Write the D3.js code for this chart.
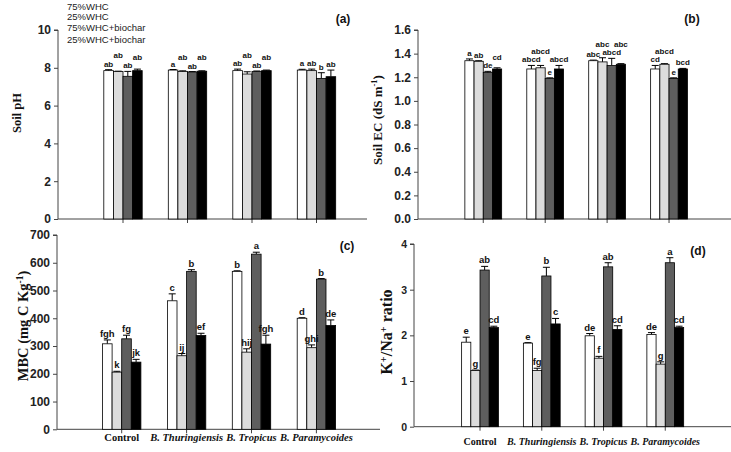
<!DOCTYPE html>
<html><head><meta charset="utf-8">
<script src="https://cdn.jsdelivr.net/npm/d3@7"></script>
<style>
html,body{margin:0;padding:0;background:#fff;}
svg{display:block;}
</style>
</head><body>
<script>
const groups = ["Control", "B. Thuringiensis", "B. Tropicus", "B. Paramycoides"];
const series = ["75%WHC", "25%WHC", "75%WHC+biochar", "25%WHC+biochar"];

// Soil pH (rows = groups, cols = series)
const phMean = [[7.85,7.80,7.55,7.85],[7.88,7.80,7.78,7.82],[7.85,7.67,7.80,7.85],[7.88,7.85,7.44,7.53]];
const phErr  = [[0.05,0.02,0.26,0.08],[0.03,0.04,0.02,0.02],[0.08,0.12,0.03,0.03],[0.04,0.08,0.30,0.35]];
const phLet  = [["ab","ab","ab","ab"],["a","ab","ab","ab"],["ab","ab","ab","ab"],["a","ab","b","ab"]];
const phTicks = [0,2,4,6,8,10];

// Soil EC
const ecMean = [[1.34,1.335,1.24,1.27],[1.27,1.28,1.19,1.27],[1.34,1.33,1.30,1.31],[1.27,1.31,1.19,1.27]];
const ecErr  = [[0.015,0.005,0.01,0.01],[0.03,0.02,0.005,0.03],[0.005,0.035,0.06,0.005],[0.03,0.005,0.005,0.005]];
const ecLet  = [["a","ab","de","cd"],["abcd","abcd","e","abcd"],["abc","abc","abcd","abc"],["cd","abcd","e","bcd"]];
const ecTicks = [0,0.2,0.4,0.6,0.8,1.0,1.2,1.4,1.6];

// MBC
const mbcMean = [[308,206,326,242],[463,265,569,338],[569,278,631,307],[400,294,541,374]];
const mbcErr  = [[14,3,13,10],[25,8,6,8],[2,12,7,32],[2,10,2,20]];
const mbcLet  = [["fgh","k","fg","jk"],["c","ij","b","ef"],["b","hij","a","fgh"],["d","ghi","b","de"]];
const mbcTicks = [0,100,200,300,400,500,600,700];

// K+/Na+ ratio
const knMean = [[1.85,1.23,3.43,2.17],[1.83,1.23,3.30,2.25],[1.99,1.50,3.50,2.13],[2.02,1.37,3.59,2.17]];
const knErr  = [[0.11,0.01,0.08,0.03],[0.01,0.05,0.19,0.12],[0.05,0.04,0.09,0.08],[0.04,0.05,0.11,0.03]];
const knLet  = [["e","g","ab","cd"],["e","fg","b","c"],["de","f","ab","cd"],["de","g","a","cd"]];
const knTicks = [0,1,2,3,4];

const fills = ["#ffffff", "#dcdcdc", "#5e5e5e", "#000000"];

const W = 731, H = 452;
const svg = d3.select("body").append("svg").attr("width", W).attr("height", H);

function drawPanel(cfg) {
  const g = svg.append("g");
  const y = d3.scaleLinear().domain(cfg.domain).range([cfg.y0, cfg.y1]);
  const x = d3.scaleBand().domain(groups).range(cfg.xr).padding(0);
  const inner = d3.scaleBand().domain(series).range([-2 * cfg.bw, 2 * cfg.bw]).padding(0);

  // y axis
  const yAxis = d3.axisLeft(y).tickValues(cfg.ticks).tickSize(4).tickPadding(3)
    .tickFormat(cfg.fmt);
  const ya = g.append("g").attr("transform", `translate(${cfg.ax},0)`).call(yAxis);
  ya.select(".domain").attr("stroke", "#444").attr("stroke-width", 1).attr("d", `M-4,${cfg.y1}H0V${cfg.y0}`);
  ya.selectAll(".tick line").attr("stroke", "#444");
  ya.selectAll(".tick text").attr("font-family", "Arial, 'Liberation Sans', sans-serif")
    .attr("font-weight", "bold").attr("font-size", cfg.tickFs).attr("fill", "#222");

  // x axis
  const xAxis = d3.axisBottom(x).tickSize(4).tickFormat(cfg.showX ? (d => d) : (() => ""));
  const xa = g.append("g").attr("transform", `translate(0,${cfg.y0})`).call(xAxis);
  xa.select(".domain").attr("stroke", "#444").attr("d", `M${cfg.ax},0H${cfg.xEnd}`);
  xa.selectAll(".tick line").attr("stroke", "#444");
  xa.selectAll(".tick text").attr("font-family", "'Times New Roman', 'Liberation Serif', serif")
    .attr("font-weight", "bold").attr("font-size", cfg.xFs).attr("fill", "#111")
    .attr("font-style", d => d === "Control" ? "normal" : "italic")
    .attr("y", cfg.xLabDy);

  // bars
  const data = [];
  groups.forEach((gr, gi) => series.forEach((s, si) => {
    data.push({ g: gr, s, si, v: cfg.mean[gi][si], e: cfg.err[gi][si], l: cfg.lets[gi][si] });
  }));
  const cx = d => x(d.g) + x.bandwidth() / 2 + inner(d.s) + inner.bandwidth() / 2;

  // error bars
  g.append("g").selectAll("path").data(data).join("path")
    .attr("d", d => {
      const c = cx(d), t = y(d.v + d.e), b = y(d.v);
      return `M${c},${b}V${t}M${c - 3.5},${t}H${c + 3.5}`;
    })
    .attr("stroke", "#000").attr("stroke-width", 1).attr("fill", "none");

  g.append("g").selectAll("rect").data(data).join("rect")
    .attr("x", d => x(d.g) + x.bandwidth() / 2 + inner(d.s))
    .attr("y", d => y(d.v))
    .attr("width", inner.bandwidth())
    .attr("height", d => y(0) - y(d.v))
    .attr("fill", d => fills[d.si])
    .attr("stroke", "#000").attr("stroke-width", 0.8);

  // significance letters: odd-positioned letters are lifted when they would collide
  const lg = g.append("g");
  const hStep = cfg.letFs * 1.05;
  groups.forEach(gr => {
    const row = data.filter(d => d.g === gr);
    const items = row.map(d => {
      const t = lg.append("text").text(d.l)
        .attr("font-family", "Arial, 'Liberation Sans', sans-serif")
        .attr("font-weight", "bold").attr("font-size", cfg.letFs).attr("fill", "#111")
        .attr("text-anchor", "middle").attr("x", cx(d));
      const w = t.node().getComputedTextLength();
      return { t, x0: cx(d) - w / 2, x1: cx(d) + w / 2, base: y(d.v + d.e) - 3 };
    });
    [1, 3].forEach(i => {
      const it = items[i];
      [i - 1, i + 1].forEach(j => {
        const nb = items[j];
        if (!nb) return;
        if (it.x0 < nb.x1 + 0.5 && it.x1 > nb.x0 - 0.5 && Math.abs(it.base - nb.base) < hStep) {
          it.base = Math.min(it.base, nb.base - hStep);
        }
      });
    });
    items.forEach(it => it.t.attr("y", it.base));
  });

  // panel tag
  g.append("text").text(cfg.tag).attr("x", cfg.tagX).attr("y", cfg.tagY)
    .attr("text-anchor", "middle").attr("font-family", "Arial, 'Liberation Sans', sans-serif")
    .attr("font-weight", "bold").attr("font-size", 12).attr("fill", "#111");

  // y title
  const tt = g.append("text")
    .attr("transform", `translate(${cfg.titleX},${cfg.titleY}) rotate(-90)`)
    .attr("text-anchor", "middle")
    .attr("font-family", "'Times New Roman', 'Liberation Serif', serif")
    .attr("font-weight", "bold").attr("font-size", cfg.titleFs).attr("fill", "#111");
  cfg.title.forEach(p => {
    const ts = tt.append("tspan").text(p.t);
    if (p.sup) ts.attr("baseline-shift", "super").attr("font-size", cfg.titleFs * 0.65);
  });
}

drawPanel({
  domain: [0, 10], y0: 219, y1: 30, ax: 58, xEnd: 367, xr: [90.75, 348.75], bw: 9.6,
  ticks: phTicks, fmt: d3.format("d"), tickFs: 12, mean: phMean, err: phErr, lets: phLet,
  letFs: 8, showX: false, xFs: 10.5, xLabDy: 4, tag: "(a)", tagX: 343, tagY: 23,
  title: [{ t: "Soil pH" }], titleX: 21, titleY: 113, titleFs: 12.5
});
drawPanel({
  domain: [0, 1.6], y0: 219, y1: 30, ax: 418, xEnd: 731, xr: [452.3, 700], bw: 9.2,
  ticks: ecTicks, fmt: d3.format(".1f"), tickFs: 12, mean: ecMean, err: ecErr, lets: ecLet,
  letFs: 8, showX: false, xFs: 10.5, xLabDy: 4, tag: "(b)", tagX: 692, tagY: 23,
  title: [{ t: "Soil EC (dS m" }, { t: "-1", sup: true }, { t: ")" }], titleX: 382, titleY: 120, titleFs: 13
});
drawPanel({
  domain: [0, 700], y0: 429.3, y1: 235, ax: 57, xEnd: 380, xr: [89.25, 348.85], bw: 9.6,
  ticks: mbcTicks, fmt: d3.format("d"), tickFs: 12, mean: mbcMean, err: mbcErr, lets: mbcLet,
  letFs: 9.5, showX: true, xFs: 10.5, xLabDy: 4.5, tag: "(c)", tagX: 347, tagY: 250,
  title: [{ t: "MBC (mg C Kg" }, { t: "-1", sup: true }, { t: ")" }], titleX: 28, titleY: 326, titleFs: 14.5
});
drawPanel({
  domain: [0, 4], y0: 426.7, y1: 244, ax: 414, xEnd: 731, xr: [449.15, 696.15], bw: 9.2,
  ticks: knTicks, fmt: d3.format("d"), tickFs: 10.5, mean: knMean, err: knErr, lets: knLet,
  letFs: 9.5, showX: true, xFs: 10, xLabDy: 11, tag: "(d)", tagX: 698, tagY: 255,
  title: [{ t: "K" }, { t: "+", sup: true }, { t: "/Na" }, { t: "+", sup: true }, { t: " ratio" }], titleX: 392, titleY: 332, titleFs: 16
});

// legend (text only, as in the reference)
const legY = [9.5, 20, 31, 42.5];
svg.append("g").selectAll("text").data(series).join("text")
  .attr("x", 67).attr("y", (d, i) => legY[i]).text(d => d)
  .attr("font-family", "Arial, 'Liberation Sans', sans-serif")
  .attr("font-size", 9.5).attr("fill", "#222");
</script>
</body></html>
